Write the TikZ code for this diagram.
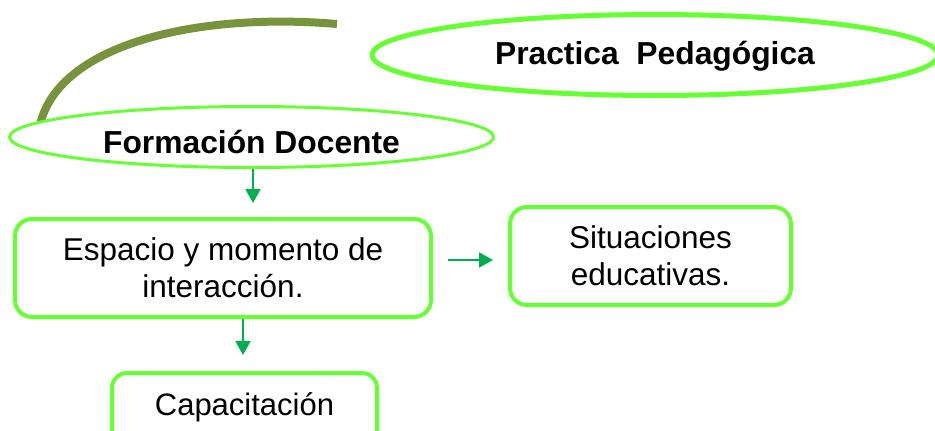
\documentclass[tikz,border=0pt]{standalone}
\usepackage{fontspec}
\setmainfont{Liberation Sans}
\usetikzlibrary{shapes.geometric,arrows.meta}
\definecolor{boxgreen}{RGB}{102,255,51}
\definecolor{arcolive}{RGB}{119,147,60}
\definecolor{arrgreen}{RGB}{0,176,80}
\begin{document}
\begin{tikzpicture}[x=1pt,y=-1pt,
  bubble/.style={ellipse, draw=boxgreen, fill=white, inner sep=0pt, font=\fontsize{31.8}{37}\selectfont\bfseries},
  card/.style={rectangle, rounded corners=17pt, draw=boxgreen, line width=4pt, fill=white, align=center, inner sep=0pt, font=\fontsize{31.5}{37}\selectfont},
  link/.style={draw=arrgreen, line width=2pt, -{Triangle[length=14pt,width=15pt]}},
  swoosh/.style={draw=arcolive, line width=8pt}
]
\useasboundingbox (0,0) rectangle (935,431);
\clip (0,0) rectangle (935,431);
\fill[white] (0,0) rectangle (935,431);

\coordinate (arcstart) at (40,125);
\coordinate (arcend) at (337,24);
\draw[swoosh] (arcstart) .. controls (58,45) and (195,12) .. (arcend);

\node[bubble, line width=5pt, minimum width=566pt, minimum height=81pt, text height=24pt, text depth=6pt] (prac) at (655,55) {Practica\ \ Pedagógica};
\node[bubble, line width=3pt, minimum width=484pt, minimum height=61pt, text height=32pt, text depth=0pt] (form) at (251.5,137) {Formación Docente};

\node[card, minimum width=416pt, minimum height=98pt] (esp) at (223,268) {Espacio y momento de\\interacción.};
\node[card, minimum width=281pt, minimum height=98pt] (sit) at (650.5,256) {Situaciones\\educativas.};
\node[card, rounded corners=15pt, minimum width=265pt, minimum height=80pt, font=\fontsize{31}{36}\selectfont, text height=20pt, text depth=16pt] (cap) at (244.5,413) {Capacitación};

\draw[link, shorten >=14pt] ([xshift=1.5pt]form.south) -- ([xshift=1.5pt]form.south |- esp.north);
\draw[link, shorten >=16pt] ([xshift=-1.5pt]esp.south -| cap.north) -- ([xshift=-1.5pt]cap.north);
\draw[link, shorten <=15pt, shorten >=15pt] ([yshift=8pt]esp.east) -- ([yshift=-4pt]sit.west);
\end{tikzpicture}
\end{document}
